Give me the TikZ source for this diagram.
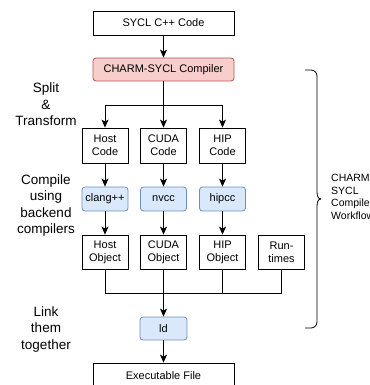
\documentclass[tikz,border=0pt]{standalone}
\usepackage{fontspec}
\setmainfont{Liberation Sans}
\usetikzlibrary{arrows.meta}
\definecolor{pinkfill}{HTML}{F8CECC}
\definecolor{pinkline}{HTML}{B85450}
\definecolor{bluefill}{HTML}{DAE8FC}
\definecolor{blueline}{HTML}{6C8EBF}
\tikzset{
  box/.style={draw=black, line width=0.8pt, fill=white, inner sep=0pt, align=center,
    font=\fontsize{11}{13}\selectfont},
  widebox/.style={box, minimum width=141pt},
  colbox/.style={box, minimum width=46pt, minimum height=34pt},
  compbox/.style={box, draw=blueline, fill=bluefill, rounded corners=3pt, minimum width=46pt, minimum height=24pt},
  lbl/.style={align=center, font=\fontsize{13.5}{16.5}\selectfont, inner sep=0pt},
  conn/.style={line width=0.8pt},
  arr/.style={conn, -{Stealth[length=8pt,width=7pt,inset=2pt]}}
}
\begin{document}
\begin{tikzpicture}[x=1pt,y=-1pt]
\useasboundingbox (0,0) rectangle (369,385);
\clip (0,0) rectangle (369,385);
% main column
\node[widebox, minimum height=24pt] (sycl) at (163.5,23) {SYCL C++ Code};
\node[widebox, minimum height=23pt, draw=pinkline, fill=pinkfill, rounded corners=3pt] (charm) at (163.5,69.5) {CHARM-SYCL Compiler};
% code boxes
\node[colbox, minimum height=35pt] (host) at (105,145.5) {Host\\Code};
\node[colbox, minimum height=35pt] (cuda) at (163.5,145.5) {CUDA\\Code};
\node[colbox, minimum height=35pt] (hip) at (222.5,145.5) {HIP\\Code};
% compilers
\node[compbox] (clang) at (105,199) {clang++};
\node[compbox] (nvcc) at (163.5,199) {nvcc};
\node[compbox] (hipcc) at (222.5,199) {hipcc};
% objects
\node[colbox] (hobj) at (105,252) {Host\\Object};
\node[colbox] (cobj) at (163.5,252) {CUDA\\Object};
\node[colbox] (pobj) at (222.5,252) {HIP\\Object};
\node[colbox] (rt) at (281.5,252) {Run-\\times};
% link
\node[compbox, minimum width=47pt, minimum height=23pt] (ld) at (163.5,328.5) {ld};
\node[widebox, minimum height=26pt] (exe) at (163.5,376) {Executable File};
% junctions
\coordinate (split) at (163.5,105);
\coordinate (merge) at (163.5,293);
% connectors
\draw[arr] (sycl) -- (charm);
\draw[conn] (charm) -- (split);
\draw[arr] (split) -| (host);
\draw[arr] (split) -- (cuda);
\draw[arr] (split) -| (hip);
\draw[arr] (host) -- (clang);
\draw[arr] (cuda) -- (nvcc);
\draw[arr] (hip) -- (hipcc);
\draw[arr] (clang) -- (hobj);
\draw[arr] (nvcc) -- (cobj);
\draw[arr] (hipcc) -- (pobj);
\draw[conn] (hobj) |- (merge);
\draw[conn] (rt) |- (merge);
\draw[conn] (pobj) |- (merge);
\draw[conn] (cobj) -- (merge);
\draw[arr] (merge) -- (ld);
\draw[arr] (ld) -- (exe);
% left labels
\node[lbl] (lsplit) at (46,104.5) {Split\\\&\\Transform};
\node[lbl] (lcomp) at (46,205.5) {Compile\\using\\backend\\compilers};
\node[lbl] (llink) at (46,329.5) {Link\\them\\together};
% brace
\draw[line width=0.8pt, line join=round] (305,70) -- (311,70) to[out=0,in=90] (317,76) -- (317,192)
  to[out=-90,in=180] (321,199) to[out=180,in=90] (317,206) -- (317,322)
  to[out=-90,in=0] (311,328) -- (305,328);
\node[anchor=west, align=left, inner sep=0pt, font=\fontsize{10.5}{12.6}\selectfont] (wf) at (331,197) {CHARM-\\SYCL\\Compiler\\Workflow};
\end{tikzpicture}
\end{document}
